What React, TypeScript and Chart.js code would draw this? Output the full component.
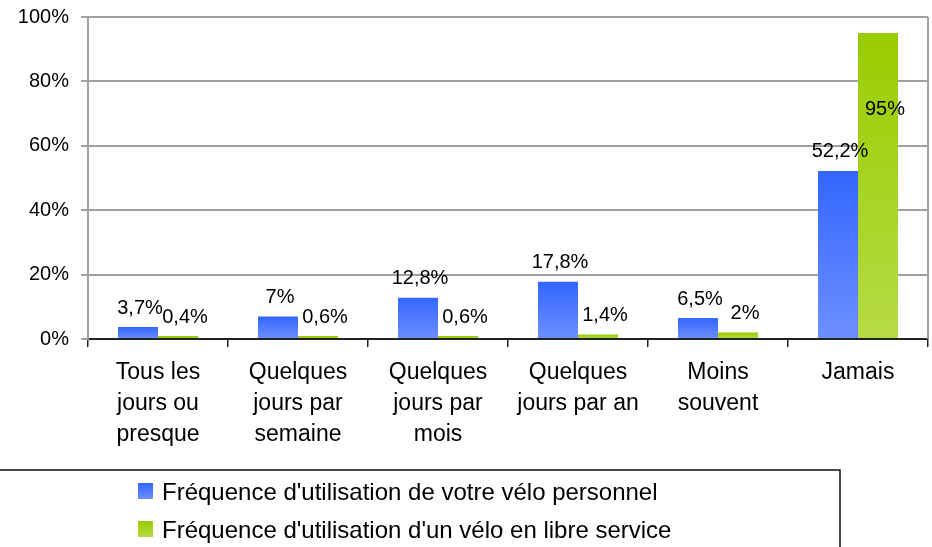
import React, { useEffect, useRef } from "react";
import { Chart, registerables } from "chart.js";

Chart.register(...registerables);

const categories: string[][] = [
  ["Tous les", "jours ou", "presque"],
  ["Quelques", "jours par", "semaine"],
  ["Quelques", "jours par", "mois"],
  ["Quelques", "jours par an"],
  ["Moins", "souvent"],
  ["Jamais"],
];
const personnelValues = [3.7, 7, 12.8, 17.8, 6.5, 52.2];
const libreServiceValues = [0.4, 0.6, 0.6, 1.4, 2, 95];
const personnelLabels = ["3,7%", "7%", "12,8%", "17,8%", "6,5%", "52,2%"];
const libreServiceLabels = ["0,4%", "0,6%", "0,6%", "1,4%", "2%", "95%"];
const seriesNames = [
  "Fréquence d'utilisation de votre vélo personnel",
  "Fréquence d'utilisation d'un vélo en libre service",
];
const yTicks = [0, 20, 40, 60, 80, 100];

const FONT = "'Liberation Sans', Arial, sans-serif";
const BLUE_TOP = "#3366ff";
const BLUE_BOTTOM = "#6d8fff";
const GREEN_TOP = "#99cc00";
const GREEN_BOTTOM = "#b6db45";

function barGradient(context: any, top: string, bottom: string) {
  const chart = context.chart;
  const area = chart.chartArea;
  if (!area || context.type !== "data") return top;
  const y = chart.scales.y;
  const v = context.raw as number;
  const yTop = y.getPixelForValue(v);
  const yBase = y.getPixelForValue(0);
  if (!isFinite(yTop) || !isFinite(yBase) || Math.abs(yBase - yTop) < 0.5) return top;
  const g = chart.ctx.createLinearGradient(0, yTop, 0, yBase);
  g.addColorStop(0, top);
  g.addColorStop(1, bottom);
  return g;
}

const labelsPlugin = {
  id: "valueLabels",
  afterDatasetsDraw(chart: any) {
    const ctx = chart.ctx;
    const y = chart.scales.y;
    const base = y.getPixelForValue(0);
    const sets = [
      { idx: 0, labels: personnelLabels, dx: 2 },
      { idx: 1, labels: libreServiceLabels, dx: 7 },
    ];
    ctx.save();
    ctx.font = `20px ${FONT}`;
    ctx.fillStyle = "#000";
    ctx.textAlign = "center";
    ctx.textBaseline = "middle";
    sets.forEach((s) => {
      const meta = chart.getDatasetMeta(s.idx);
      meta.data.forEach((bar: any, i: number) => {
        const value = chart.data.datasets[s.idx].data[i] as number;
        let ly = bar.y - 19;
        if (value > 90) ly = base + (y.getPixelForValue(value) - base) * 0.75;
        ctx.fillText(s.labels[i], bar.x + s.dx, ly);
      });
    });
    ctx.restore();
  },
};

const framePlugin = {
  id: "frameAndLegend",
  afterDraw(chart: any) {
    const ctx = chart.ctx;
    const a = chart.chartArea;
    ctx.save();
    ctx.strokeStyle = "#a0a0a0";
    ctx.lineWidth = 2;
    ctx.beginPath();
    ctx.moveTo(a.right, a.top);
    ctx.lineTo(a.right, a.bottom);
    ctx.stroke();

    ctx.strokeStyle = "#111";
    ctx.lineWidth = 1.5;
    ctx.strokeRect(-2, 470, 842, 90);
    const colors = [
      [BLUE_TOP, BLUE_BOTTOM],
      [GREEN_TOP, GREEN_BOTTOM],
    ];
    ctx.font = `24px ${FONT}`;
    ctx.textBaseline = "middle";
    ctx.textAlign = "left";
    seriesNames.forEach((name, i) => {
      const cy = 491 + i * 38;
      const g = ctx.createLinearGradient(0, cy - 8, 0, cy + 8);
      g.addColorStop(0, colors[i][0]);
      g.addColorStop(1, colors[i][1]);
      ctx.fillStyle = g;
      ctx.fillRect(138, cy - 8, 15, 16);
      ctx.fillStyle = "#000";
      ctx.fillText(name, 162, cy + 2);
    });
    ctx.restore();
  },
};

export default function App() {
  const canvasRef = useRef<HTMLCanvasElement | null>(null);

  useEffect(() => {
    document.body.style.margin = "0";
    const canvas = canvasRef.current;
    if (!canvas) return;
    const chart = new Chart(canvas, {
      type: "bar",
      data: {
        labels: categories,
        datasets: [
          {
            label: seriesNames[0],
            data: personnelValues,
            backgroundColor: (c: any) => barGradient(c, BLUE_TOP, BLUE_BOTTOM),
            borderWidth: 0,
            minBarLength: 3,
            categoryPercentage: 80 / 140,
            barPercentage: 1,
          },
          {
            label: seriesNames[1],
            data: libreServiceValues,
            backgroundColor: (c: any) => barGradient(c, GREEN_TOP, GREEN_BOTTOM),
            borderWidth: 0,
            minBarLength: 3,
            categoryPercentage: 80 / 140,
            barPercentage: 1,
          },
        ],
      },
      options: {
        animation: false,
        responsive: false,
        maintainAspectRatio: false,
        devicePixelRatio: 1,
        layout: { padding: { top: 17, right: 4, left: 0, bottom: 0 } },
        plugins: {
          legend: { display: false },
          tooltip: { enabled: false },
          title: { display: false },
        },
        scales: {
          x: {
            offset: true,
            grid: {
              offset: true,
              drawOnChartArea: false,
              drawTicks: true,
              tickLength: 8,
              color: "#222",
              lineWidth: 1.5,
            },
            border: { color: "#222", width: 2 },
            ticks: {
              color: "#000",
              font: { family: FONT, size: 23, lineHeight: 1.35 },
              padding: 10,
              maxRotation: 0,
              autoSkip: false,
            },
            afterFit: (s: any) => {
              s.height = 547 - 339;
              s.paddingTop = 0;
              s.paddingBottom = 0;
            },
          },
          y: {
            min: 0,
            max: 100,
            afterBuildTicks: (s: any) => {
              s.ticks = yTicks.map((v) => ({ value: v }));
            },
            grid: {
              color: "#a0a0a0",
              lineWidth: 2,
              tickLength: 7,
              drawTicks: true,
            },
            border: { color: "#a0a0a0", width: 2 },
            ticks: {
              color: "#000",
              font: { family: FONT, size: 20 },
              padding: 12,
              callback: (v: any) => `${v}%`,
            },
            afterFit: (s: any) => {
              s.width = 88;
              s.paddingTop = 0;
              s.paddingBottom = 0;
            },
          },
        },
      },
      plugins: [labelsPlugin, framePlugin],
    });
    return () => chart.destroy();
  }, []);

  return (
    <div style={{ width: 932, height: 547, background: "#fff" }}>
      <canvas ref={canvasRef} width={932} height={547} style={{ display: "block" }} />
    </div>
  );
}
